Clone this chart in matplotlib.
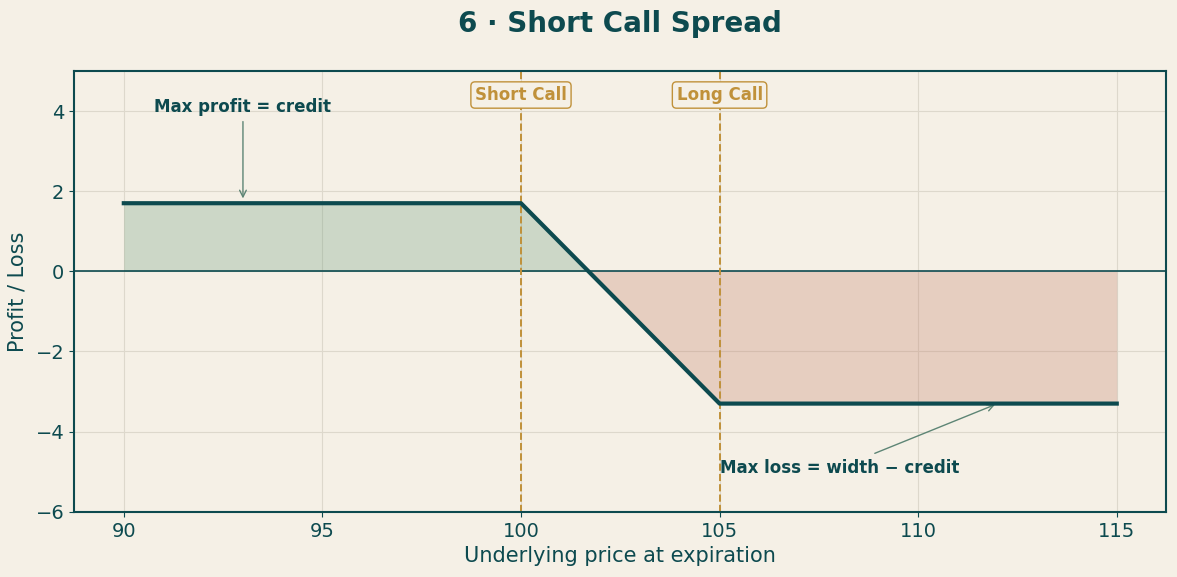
import numpy as np
import matplotlib.pyplot as plt

# payoff data for a short call spread
prices = [90, 100, 105, 115]
pnl = [1.7, 1.7, -3.3, -3.3]
short_strike = 100
long_strike = 105
credit = 1.7

bg = '#f5f0e6'
teal = '#0d4a4f'
gold = '#c0913a'

fig, ax = plt.subplots(figsize=(11.77, 5.77), dpi=100)
fig.patch.set_facecolor(bg)
ax.set_facecolor(bg)

x = np.array(prices, dtype=float)
y = np.array(pnl, dtype=float)
be = short_strike + credit
xs = np.array([90, 100, be, 105, 115])
ys = np.interp(xs, x, y)

ax.fill_between(xs, ys, 0, where=ys >= 0, interpolate=True, color='#6f9f80', alpha=0.3, linewidth=0)
ax.fill_between(xs, ys, 0, where=ys <= 0, interpolate=True, color='#c4806a', alpha=0.3, linewidth=0)
ax.plot(x, y, color=teal, linewidth=3, zorder=4)
ax.axhline(0, color=teal, linewidth=1.2)

for k, lab in [(short_strike, 'Short Call'), (long_strike, 'Long Call')]:
    ax.axvline(k, color=gold, linestyle='--', linewidth=1.4)
    ax.text(k, 4.4, lab, color=gold, fontsize=12, fontweight='bold', ha='center', va='center',
            bbox=dict(boxstyle='round,pad=0.25', facecolor=bg, edgecolor=gold, linewidth=1))

ax.annotate('Max profit = credit', xy=(93, 1.75), xytext=(93, 4.1), ha='center', va='center',
            color=teal, fontsize=12, fontweight='bold',
            arrowprops=dict(arrowstyle='->', color='#5d8575', linewidth=1))
ax.annotate('Max loss = width \u2212 credit', xy=(112, -3.3), xytext=(105, -4.9), ha='left', va='center',
            color=teal, fontsize=12, fontweight='bold',
            arrowprops=dict(arrowstyle='->', color='#5d8575', linewidth=1, shrinkA=5))

ax.set_ylim(-6, 5)
ax.set_xticks([90, 95, 100, 105, 110, 115])
ax.set_yticks([-6, -4, -2, 0, 2, 4])
ax.grid(True, color='#ddd8cc', linewidth=0.8)
ax.set_axisbelow(True)
for s in ax.spines.values():
    s.set_color(teal)
    s.set_linewidth(1.5)
ax.tick_params(colors=teal, labelsize=14)
ax.set_xlabel('Underlying price at expiration', color=teal, fontsize=15)
ax.set_ylabel('Profit / Loss', color=teal, fontsize=15, labelpad=6)
ax.set_title('6 \u00b7 Short Call Spread', color=teal, fontsize=20, fontweight='bold', pad=28)

plt.subplots_adjust(left=0.063, right=0.991, top=0.877, bottom=0.113)
plt.savefig('out.png', facecolor=bg)
